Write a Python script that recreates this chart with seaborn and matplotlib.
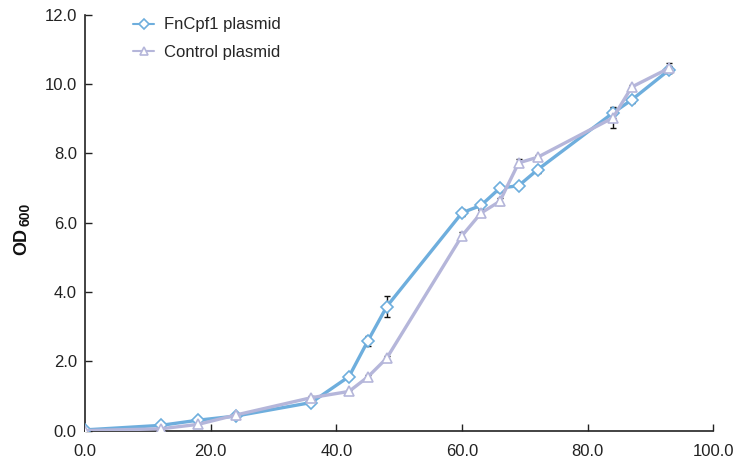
import matplotlib
matplotlib.use('Agg')
import matplotlib.pyplot as plt
import seaborn as sns
import pandas as pd

# time (h) and OD600 readings
hours = [0, 12, 18, 24, 36, 42, 45, 48, 60, 63, 66, 69, 72, 84, 87, 93]
fncpf1_od = [0.02, 0.15, 0.30, 0.42, 0.81, 1.56, 2.59, 3.58, 6.29, 6.50, 7.00, 7.07, 7.53, 9.17, 9.55, 10.42]
fncpf1_err = [0.03, 0.04, 0.04, 0.04, 0.05, 0.08, 0.15, 0.30, 0.10, 0.10, 0.10, 0.06, 0.10, 0.15, 0.08, 0.10]
control_od = [0.00, 0.05, 0.18, 0.45, 0.95, 1.13, 1.55, 2.09, 5.63, 6.28, 6.62, 7.73, 7.89, 9.03, 9.92, 10.47]
control_err = [0.03, 0.03, 0.03, 0.04, 0.04, 0.05, 0.05, 0.06, 0.10, 0.08, 0.10, 0.10, 0.08, 0.30, 0.06, 0.15]

names = ['FnCpf1 plasmid', 'Control plasmid']
colors = {'FnCpf1 plasmid': '#6EAEDD', 'Control plasmid': '#B5B6DA'}
marks = {'FnCpf1 plasmid': 'D', 'Control plasmid': '^'}

df = pd.concat([
    pd.DataFrame({'hours': hours, 'od': fncpf1_od, 'err': fncpf1_err, 'series': names[0]}),
    pd.DataFrame({'hours': hours, 'od': control_od, 'err': control_err, 'series': names[1]}),
])

sns.set_style('ticks')
plt.rcParams['font.family'] = ['Liberation Sans', 'DejaVu Sans']

fig = plt.figure(figsize=(7.34, 4.67), dpi=100)
ax = fig.add_axes([0.116, 0.078, 0.856, 0.89])

for name in names:
    sub = df[df['series'] == name]
    sns.lineplot(ax=ax, data=sub, x='hours', y='od', color=colors[name], marker=marks[name],
                 markersize=7.5 if marks[name] == '^' else 6, markerfacecolor='white',
                 markeredgecolor=colors[name], markeredgewidth=1.2, linewidth=2.4,
                 label=name, zorder=3)
    ax.errorbar(sub['hours'], sub['od'], yerr=sub['err'], fmt='none', ecolor='#111111',
                elinewidth=1.0, capsize=2.5, capthick=1.0, zorder=2)

ax.set_xlim(0, 100)
ax.set_ylim(0, 12)
ax.set_xticks(range(0, 101, 20))
ax.set_yticks(range(0, 13, 2))
ax.set_xticklabels(['%.1f' % v for v in range(0, 101, 20)])
ax.set_yticklabels(['%.1f' % v for v in range(0, 13, 2)])
ax.tick_params(direction='in', length=5, width=1, labelsize=12, colors='#222222', pad=6)
ax.tick_params(axis='x', pad=10)
for side in ['top', 'right']:
    ax.spines[side].set_visible(False)
for side in ['left', 'bottom']:
    ax.spines[side].set_linewidth(1.2)
    ax.spines[side].set_color('#222222')

ax.set_xlabel('')
ax.set_ylabel('')
# y label: bold "OD" with a smaller "600" subscript, rotated
fig.text(0.030, 0.483, 'OD', rotation=90, fontsize=13, fontweight='bold',
         ha='center', va='center', color='#111111')
fig.text(0.0345, 0.541, '600', rotation=90, fontsize=10, fontweight='bold',
         ha='center', va='center', color='#111111')

leg = ax.legend(loc='upper left', bbox_to_anchor=(0.052, 1.03), frameon=False, fontsize=12,
                handlelength=1.3, handletextpad=0.6, labelspacing=0.75)
for h in leg.legend_handles:
    h.set_markersize(5.5)
    h.set_linewidth(1.5)

plt.savefig('out.png', dpi=100)
